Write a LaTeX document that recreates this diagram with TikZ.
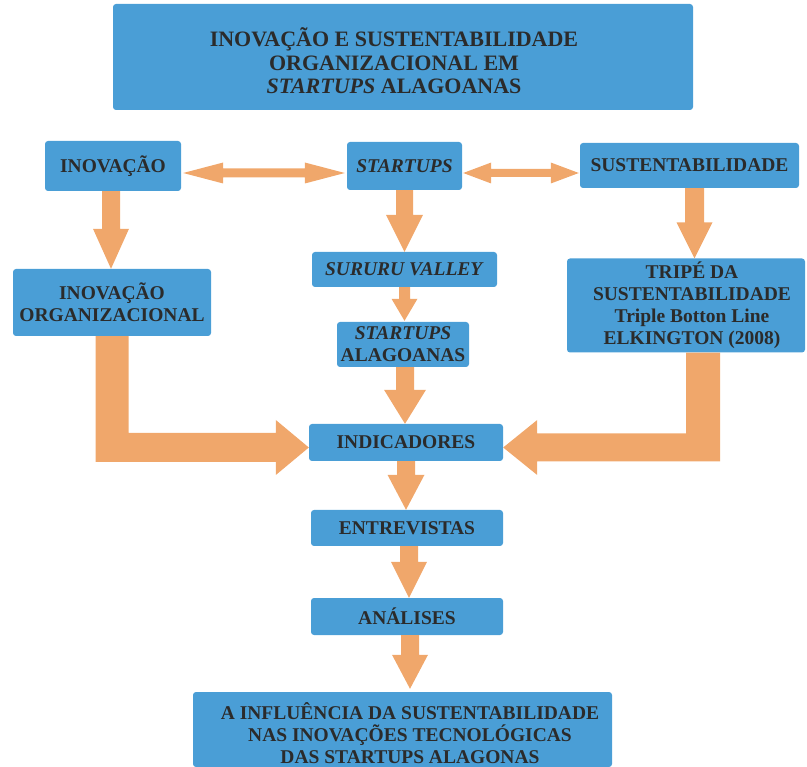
\documentclass[tikz,border=0pt]{standalone}
\usepackage{fontspec}
\setmainfont{Liberation Serif}
\usetikzlibrary{calc}
\definecolor{boxblue}{RGB}{74,158,214}
\definecolor{arrorange}{RGB}{240,167,107}
\definecolor{txt}{RGB}{43,43,43}
\tikzset{
  box/.style={fill=boxblue, rounded corners=3pt, inner sep=0pt, align=center, text=txt,
    font=\fontsize{19.5}{22}\selectfont\bfseries},
  boxtext/.style={inner sep=0pt, align=center, text=txt, font=\fontsize{19.5}{22}\selectfont\bfseries},
  titletext/.style={boxtext, font=\fontsize{22}{23.5}\selectfont\bfseries},
  arr/.style={fill=arrorange}
}
% down block arrow: #1 start, #2 tip, #3 shaft half, #4 head half, #5 head length
\newcommand\downarr[5]{\fill[arr] let \p1=(#1), \p2=(#2) in
  (\x1-#3pt,\y1) -- (\x1+#3pt,\y1) -- (\x1+#3pt,\y2+#5pt) -- (\x1+#4pt,\y2+#5pt) -- (\x1,\y2)
  -- (\x1-#4pt,\y2+#5pt) -- (\x1-#3pt,\y2+#5pt) -- cycle;}
% horizontal double block arrow: #1 left tip, #2 right tip
\newcommand\dblarr[5]{\fill[arr] let \p1=(#1), \p2=(#2) in
  (\x1,\y1) -- (\x1+#5pt,\y1+#4pt) -- (\x1+#5pt,\y1+#3pt) -- (\x2-#5pt,\y1+#3pt) -- (\x2-#5pt,\y1+#4pt)
  -- (\x2,\y1) -- (\x2-#5pt,\y1-#4pt) -- (\x2-#5pt,\y1-#3pt) -- (\x1+#5pt,\y1-#3pt) -- (\x1+#5pt,\y1-#4pt) -- cycle;}
\begin{document}
\begin{tikzpicture}[x=1pt,y=-1pt]
\useasboundingbox (0,0) rectangle (807,767);

\node[box, minimum width=580, minimum height=106] (title) at (403,57) {};
\node[titletext] (titlet) at (394,61)
  {INOVAÇÃO E SUSTENTABILIDADE\\ORGANIZACIONAL EM\\\textit{STARTUPS} ALAGOANAS};

\node[box, minimum width=136, minimum height=50] (inov) at (113,166) {INOVAÇÃO};
\node[box, minimum width=115, minimum height=48] (start) at (404.5,166) {\textit{STARTUPS}};
\node[box, minimum width=219, minimum height=45] (sust) at (689.5,165.5) {SUSTENTABILIDADE};

\node[box, minimum width=198, minimum height=67] (inovorg) at (112,302.5) {INOVAÇÃO\\ORGANIZACIONAL};
\node[box, minimum width=185, minimum height=35] (sururu) at (404.5,269.5) {\textit{SURURU VALLEY}};
\node[box, minimum width=132, minimum height=45] (stal) at (403,344.5) {\textit{STARTUPS}\\ALAGOANAS};
\node[box, minimum width=238, minimum height=94] (tripe) at (686,305.5) {};
\node[boxtext] (tripet) at (692,305.5)
  {TRIPÉ DA\\SUSTENTABILIDADE\\Triple Botton Line\\ELKINGTON (2008)};

\node[box, minimum width=194, minimum height=37] (indic) at (406,442.5) {INDICADORES};
\node[box, minimum width=192, minimum height=36] (entrev) at (407,528) {ENTREVISTAS};
\node[box, minimum width=192, minimum height=37] (anal) at (407,616.5) {ANÁLISES};
\node[box, minimum width=419, minimum height=75] (final) at (402.5,729.5) {};
\node[boxtext] (finalt) at (410,733)
  {A INFLUÊNCIA DA SUSTENTABILIDADE\\NAS INOVAÇÕES TECNOLÓGICAS\\DAS STARTUPS ALAGONAS};

% horizontal double arrows
\dblarr{$(inov.east)+(2,7)$}{$(start.west)+(-2,7)$}{4.5}{10.5}{40}
\dblarr{$(start.east)+(1,7)$}{$(sust.west)+(-1,7)$}{4}{10.5}{28}

% vertical arrows
\downarr{$(inov.south)+(-2,0)$}{$(inovorg.north)+(-1,0)$}{9}{18}{40}
\downarr{$(start.south)$}{$(sururu.north)$}{8.5}{18.5}{37}
\downarr{$(sust.south)+(5,0)$}{$(tripe.north)+(8.5,0)$}{9.5}{18}{36}
\downarr{$(sururu.south)+(0,0)$}{$(stal.north)+(1.5,-1)$}{5.5}{13}{22}
\downarr{$(stal.south)+(2,0)$}{$(indic.north)$}{9}{21}{34}
\downarr{$(indic.south)$}{$(entrev.north)$}{9}{18.5}{35}
\downarr{$(entrev.south)+(2,0)$}{$(anal.north)+(2,0)$}{9}{18}{36}
\downarr{$(anal.south)+(3,0)$}{$(final.north)+(7.5,-3)$}{9}{18}{34}

% elbow arrows
\fill[arr] let \p1=(inovorg.south), \p2=($(indic.west)+(0,5)$) in
  (\x1-16.5pt,\y1) -- (\x1+16.5pt,\y1) -- (\x1+16.5pt,\y2+14.5pt) -- (\x2-33pt,\y2+14.5pt)
  -- (\x2-33pt,\y2+27.5pt) -- (\x2,\y2) -- (\x2-33pt,\y2-27.5pt) -- (\x2-33pt,\y2-14.5pt)
  -- (\x1-16.5pt,\y2-14.5pt) -- cycle;
\fill[arr] let \p1=($(tripe.south)+(17,0)$), \p2=($(indic.east)+(0,5)$) in
  (\x1+17pt,\y1) -- (\x1-17pt,\y1) -- (\x1-17pt,\y2+14pt) -- (\x2+34pt,\y2+14pt)
  -- (\x2+34pt,\y2+27.5pt) -- (\x2,\y2) -- (\x2+34pt,\y2-27.5pt) -- (\x2+34pt,\y2-14pt)
  -- (\x1+17pt,\y2-14pt) -- cycle;
\end{tikzpicture}
\end{document}
